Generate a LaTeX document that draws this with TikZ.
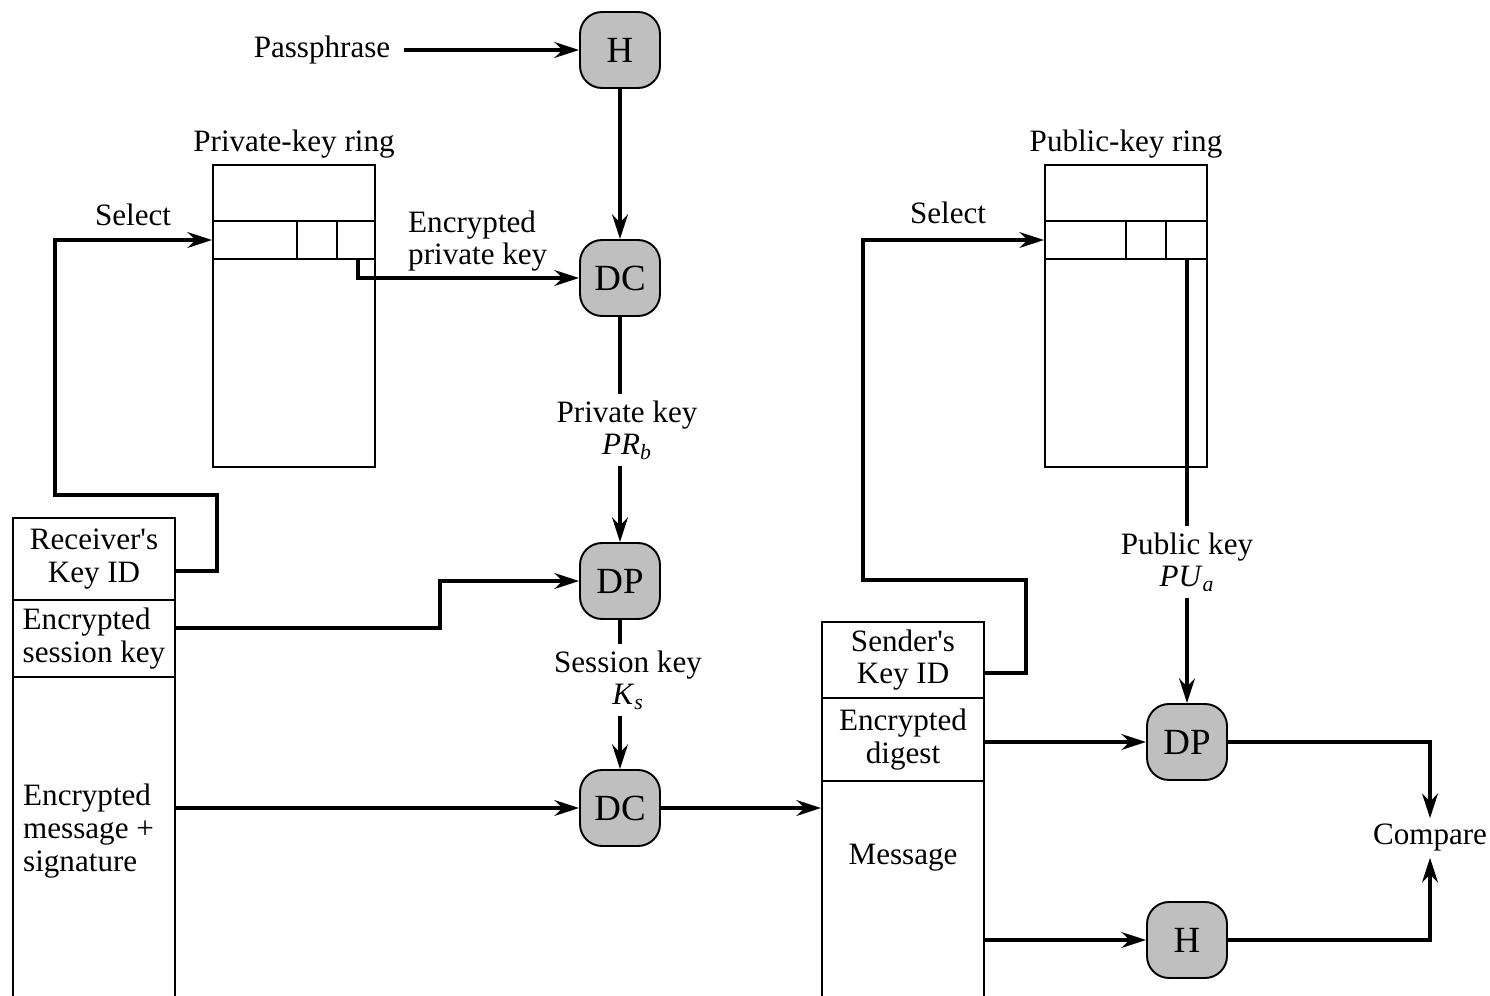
\documentclass[tikz,border=0pt]{standalone}
\usepackage{fontspec}
\setmainfont{Liberation Serif}
\usetikzlibrary{arrows.meta,positioning}

\begin{document}
\begin{tikzpicture}[x=0.02cm,y=-0.02cm,
  font=\fontsize{17.7}{18.6}\selectfont,
  op/.style={draw,fill=gray!50,rounded corners=0.44cm,minimum width=1.6cm,
    minimum height=1.52cm,inner sep=0pt,line width=1.1pt,
    font=\fontsize{21}{23}\selectfont},
  field/.style={draw,line width=1.1pt,minimum width=3.24cm,inner sep=0pt,align=center},
  ring/.style={draw,line width=1.1pt,minimum width=3.24cm,minimum height=6.04cm,inner sep=0pt},
  flow/.style={line width=1.9pt,-{Stealth[length=14pt,width=9pt]}},
  link/.style={line width=1.9pt}]
\useasboundingbox (0,0) rectangle (1490,996);

% processing steps
\node[op] (h1) at (620,50) {H};
\node[op] (dc1) at (620,278) {DC};
\node[op] (dp1) at (620,581) {DP};
\node[op] (dc2) at (620,808) {DC};
\node[op] (dp2) at (1187,742) {DP};
\node[op] (h2) at (1187,940) {H};

% incoming message
\node[field,minimum height=1.64cm] (rkid) at (94,559) {Receiver\textquotesingle s\\Key ID};
\node[field,minimum height=1.54cm,align=left] (esk) at (94,638.5) {Encrypted\\session key};
\node[field,minimum height=6.46cm] (ems) at (94,838.5) {};
\node[anchor=north west,align=left] (emstxt) at (17,778) {Encrypted\\message +\\signature};

% decrypted message
\node[field,minimum height=1.52cm] (skid) at (903,660) {Sender\textquotesingle s\\Key ID};
\node[field,minimum height=1.66cm] (edg) at (903,739.5) {Encrypted\\digest};
\node[field,minimum height=4.38cm] (msg) at (903,890.5) {};
\node (msgtxt) at (903,858) {Message};

% key rings
\node[ring] (prv) at (294,316) {};
\node[above=0pt of prv] (prvlbl) {Private-key ring};
\draw[line width=0.9pt] (213,221) -- (375,221) (213,259) -- (375,259)
  (297,221) -- (297,259) (337,221) -- (337,259);
\node[ring] (pub) at (1126,316) {};
\node[above=0pt of pub] (publbl) {Public-key ring};
\draw[line width=0.9pt] (1045,221) -- (1207,221) (1045,259) -- (1207,259)
  (1126,221) -- (1126,259) (1166,221) -- (1166,259);
\coordinate (prvslot) at (358,259);
\coordinate (pubslot) at (1187,259);

% labels
\node (pass) at (322,50) {Passphrase};
\node[anchor=west,align=left] (epk) at (402,241) {Encrypted\\private key};
\node (sel1) at (133,215) {Select};
\node (sel2) at (948,213) {Select};
\node[align=center] (prk) at (627,430) {Private key\\\textit{PR}\textsubscript{\textit{b}}};
\node[align=center] (sk) at (628,680) {Session key\\\textit{K}\textsubscript{\textit{s}}};
\node[align=center] (pubk) at (1187,562) {Public key\\\textit{PU}\textsubscript{\textit{a}}};
\node (cmp) at (1430,838) {Compare};

% connectors
\draw[flow] ([xshift=0.16cm]pass.east) -- (h1.west);
\draw[flow] (h1.south) -- (dc1.north);
\draw[flow] (prvslot) |- (dc1.west);
\draw[link] (dc1.south) -- (dc1.south |- prk.north);
\draw[flow] (dc1.south |- prk.south) -- (dp1.north);
\draw[link] (dp1.south) -- (dp1.south |- sk.north);
\draw[flow] (dp1.south |- sk.south) -- (dc2.north);
\draw[flow] ([yshift=-0.24cm]rkid.east) -- ++(41,0) |- (55,495) |- ([yshift=1.52cm]prv.west);
\draw[flow] ([yshift=0.21cm]esk.east) -| (440,581) -- (dp1.west);
\draw[flow] (ems.east |- dc2) -- (dc2.west);
\draw[flow] (dc2.east) -- (dc2 -| msg.west);
\draw[flow] ([yshift=-0.26cm]skid.east) -- ++(41,0) |- (863,580) |- ([yshift=1.52cm]pub.west);
\draw[link] (pubslot) -- (pubslot |- pubk.north);
\draw[flow] (pubslot |- pubk.south) -- (dp2.north);
\draw[flow] (edg.east |- dp2) -- (dp2.west);
\draw[flow] (msg.east |- h2) -- (h2.west);
\draw[flow] (dp2.east) -| (cmp.north);
\draw[flow] (h2.east) -| (cmp.south);
\end{tikzpicture}
\end{document}
